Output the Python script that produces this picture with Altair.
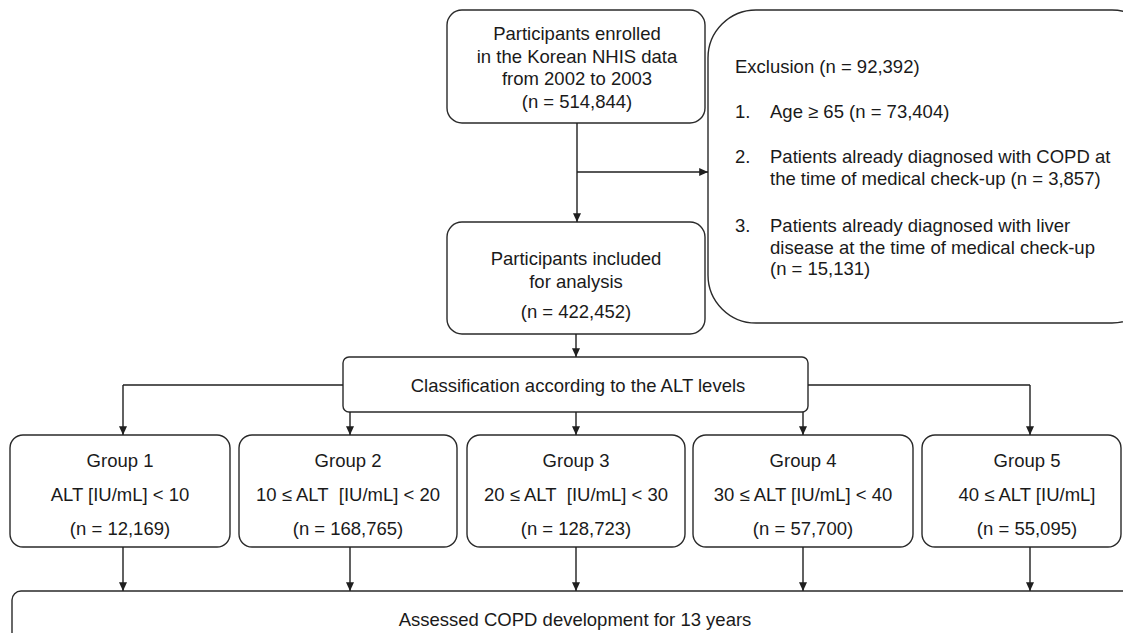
import altair as alt
import pandas as pd

# ---------------- values ----------------
enrolled_n = 514844
excluded_n = 92392
excl_age_n = 73404
excl_copd_n = 3857
excl_liver_n = 15131
included_n = 422452
group_names = ["Group 1", "Group 2", "Group 3", "Group 4", "Group 5"]
group_ranges = [
    "ALT [IU/mL] < 10",
    "10 \u2264 ALT\u00a0 [IU/mL] < 20",
    "20 \u2264 ALT\u00a0 [IU/mL] < 30",
    "30 \u2264 ALT [IU/mL] < 40",
    "40 \u2264 ALT [IU/mL]",
]
group_n = [12169, 168765, 128723, 57700, 55095]

fmt = lambda n: f"(n = {n:,})"

enrolled_lines = ["Participants enrolled", "in the Korean NHIS data",
                  "from 2002 to 2003", fmt(enrolled_n)]
included_lines = ["Participants included", "for analysis", fmt(included_n)]
classification_label = "Classification according to the ALT levels"
exclusion_title = f"Exclusion {fmt(excluded_n)}"
exclusion_nums = ["1.", "2.", "3."]
exclusion_items = [
    [f"Age \u2265 65 {fmt(excl_age_n)}"],
    ["Patients already diagnosed with COPD at",
     f"the time of medical check-up {fmt(excl_copd_n)}"],
    ["Patients already diagnosed with liver",
     "disease at the time of medical check-up", fmt(excl_liver_n)],
]
outcome_label = "Assessed COPD development for 13 years"

# ---------------- layout (pixels of the page) ----------------
X0, Y0 = 8, 8
W, H = 1115, 625
xs = alt.Scale(domain=[X0, X0 + W], nice=False, zero=False)
ys = alt.Scale(domain=[Y0, Y0 + H], nice=False, zero=False, reverse=True)

FONT = "Liberation Sans, Arial, Helvetica, sans-serif"
FS = 18.5
TXT = "#1a1a1a"
LINE = "#1f1f1f"

group_x0 = [10, 239, 467, 693, 922]
group_x1 = [230, 457, 685, 913, 1121]
group_cx = [120, 348, 576, 803, 1027]
arrow_cx = [123, 350, 576, 803, 1030]

boxes = {
    15: [(447, 705, 10, 123), (447, 705, 222, 334)],
    48: [(708, 1160, 10, 323)],
    6: [(343, 808, 357, 412)],
    13: [(x0, x1, 435, 547) for x0, x1 in zip(group_x0, group_x1)],
    9: [(12, 1160, 591, 680)],
}

# connector lines
segs = [
    (577, 123, 577, 222),
    (577, 172, 708, 172),
    (576, 334, 576, 357),
    (343, 385, 123, 385),
    (123, 385, 123, 435),
    (808, 385, 1030, 385),
    (1030, 385, 1030, 435),
]
for cx in [350, 576, 803]:
    segs.append((cx, 412, cx, 435))
for cx in arrow_cx:
    segs.append((cx, 547, cx, 591))

heads_down = [(577, 222), (576, 357)] + [(cx, 435) for cx in arrow_cx] + \
             [(cx, 591) for cx in arrow_cx]
heads_right = [(708, 172)]

# text rows
center_rows = []
for i, t in enumerate(enrolled_lines):
    center_rows.append((577, 40 + i * 22.5, t))
for t, y in zip(included_lines, [265, 287.5, 318]):
    center_rows.append((576, y, t))
center_rows.append((578, 392, classification_label))
for cx, name, rng, n in zip(group_cx, group_names, group_ranges, group_n):
    center_rows += [(cx, 467, name), (cx, 501, rng), (cx, 535, fmt(n))]
center_rows.append((575, 626, outcome_label))

left_rows = [(735, 73, exclusion_title)]
item_y = [118, 163, 232]
for num, lines, y in zip(exclusion_nums, exclusion_items, item_y):
    left_rows.append((735, y, num))
    for j, t in enumerate(lines):
        left_rows.append((770, y + j * 21.5, t))

# ---------------- chart ----------------
def enc_xy():
    return dict(
        x=alt.X("x:Q", scale=xs, axis=None),
        y=alt.Y("y:Q", scale=ys, axis=None),
    )

layers = []
for r, lst in boxes.items():
    df = pd.DataFrame(lst, columns=["x", "x2", "y", "y2"])
    layers.append(
        alt.Chart(df).mark_rect(cornerRadius=r, fill="white", stroke="#2a2a2a",
                                strokeWidth=1.4, clip=True)
        .encode(x=alt.X("x:Q", scale=xs, axis=None), x2="x2:Q",
                y=alt.Y("y:Q", scale=ys, axis=None), y2="y2:Q")
    )

seg_df = pd.DataFrame(segs, columns=["x", "y", "x2", "y2"])
layers.append(
    alt.Chart(seg_df).mark_rule(color=LINE, strokeWidth=1.4)
    .encode(x=alt.X("x:Q", scale=xs, axis=None), x2="x2:Q",
            y=alt.Y("y:Q", scale=ys, axis=None), y2="y2:Q")
)

hd = pd.DataFrame(heads_down, columns=["x", "y"])
layers.append(
    alt.Chart(hd).mark_point(shape="M-1,-2.2L1,-2.2L0,0Z", size=64, filled=True,
                             color=LINE, opacity=1, strokeWidth=0)
    .encode(**enc_xy())
)
hr = pd.DataFrame(heads_right, columns=["x", "y"])
layers.append(
    alt.Chart(hr).mark_point(shape="M-2.2,-1L-2.2,1L0,0Z", size=64, filled=True,
                             color=LINE, opacity=1, strokeWidth=0)
    .encode(**enc_xy())
)

cdf = pd.DataFrame(center_rows, columns=["x", "y", "t"])
layers.append(
    alt.Chart(cdf).mark_text(align="center", baseline="alphabetic", font=FONT,
                             fontSize=FS, color=TXT)
    .encode(**enc_xy(), text="t:N")
)
ldf = pd.DataFrame(left_rows, columns=["x", "y", "t"])
layers.append(
    alt.Chart(ldf).mark_text(align="left", baseline="alphabetic", font=FONT,
                             fontSize=FS, color=TXT)
    .encode(**enc_xy(), text="t:N")
)

chart = (
    alt.layer(*layers)
    .properties(width=W, height=H, padding=0, background="white")
    .configure_view(strokeWidth=0)
)

chart.save("out.html", embed_options={"renderer": "svg", "actions": False})
